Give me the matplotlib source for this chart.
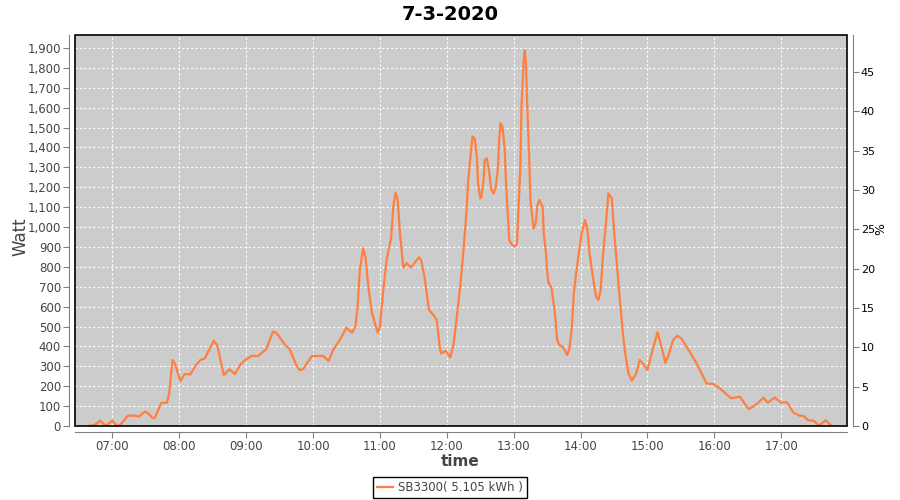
"""Daily output of the SB3300 inverter for 7-3-2020 (watt vs time)."""

import matplotlib
matplotlib.use("Agg")

import matplotlib.dates as mdates
import matplotlib.pyplot as plt
import pandas as pd
from matplotlib.patches import Rectangle
from matplotlib.ticker import FuncFormatter, MultipleLocator

DAY = "2020-03-07"
TITLE = "7-3-2020"
LEGEND_LABEL = "SB3300( 5.105 kWh )"

times = [
    "06:38", "06:44", "06:49", "06:54", "07:00", "07:04", "07:07", "07:14",
    "07:19", "07:24", "07:29", "07:32", "07:36", "07:38", "07:44", "07:49",
    "07:51", "07:54", "07:56", "08:01", "08:05", "08:10", "08:15", "08:19",
    "08:23", "08:31", "08:34", "08:40", "08:45", "08:50", "08:55", "09:00",
    "09:05", "09:11", "09:15", "09:18", "09:24", "09:27", "09:35", "09:39",
    "09:45", "09:48", "09:51", "09:59", "10:09", "10:14", "10:18", "10:24",
    "10:30", "10:35", "10:38", "10:40", "10:42", "10:45", "10:47", "10:50",
    "10:53", "10:58", "11:00", "11:03", "11:06", "11:10", "11:12", "11:14",
    "11:16", "11:18", "11:21", "11:24", "11:28", "11:35", "11:37", "11:40",
    "11:44", "11:48", "11:51", "11:54", "11:55", "11:59", "12:03", "12:06",
    "12:09", "12:12", "12:15", "12:18", "12:19", "12:21", "12:23", "12:25",
    "12:27", "12:28", "12:30", "12:31", "12:33", "12:34", "12:36", "12:38",
    "12:40", "12:42", "12:44", "12:46", "12:47", "12:48", "12:50", "12:52",
    "12:53", "12:55", "12:56", "12:58", "13:01", "13:03", "13:04", "13:06",
    "13:07", "13:09", "13:10", "13:11", "13:12", "13:14", "13:15", "13:17",
    "13:18", "13:20", "13:21", "13:23", "13:26", "13:27", "13:29", "13:30",
    "13:31", "13:34", "13:37", "13:39", "13:41", "13:44", "13:48", "13:50",
    "13:52", "13:54", "13:56", "13:58", "14:01", "14:04", "14:06", "14:08",
    "14:11", "14:14", "14:16", "14:18", "14:20", "14:23", "14:25", "14:28",
    "14:30", "14:33", "14:35", "14:38", "14:40", "14:43", "14:46", "14:50",
    "14:53", "14:57", "15:00", "15:03", "15:09", "15:13", "15:16", "15:19",
    "15:23", "15:27", "15:31", "15:35", "15:38", "15:44", "15:53", "15:59",
    "16:05", "16:15", "16:23", "16:27", "16:31", "16:38", "16:44", "16:48",
    "16:54", "17:00", "17:05", "17:11", "17:17", "17:20", "17:24", "17:29",
    "17:34", "17:40", "17:45",
]

watt = [
    0, 5, 27, 0, 27, 0, 5, 52,
    52, 48, 72, 65, 40, 40, 117, 117,
    166, 332, 316, 226, 261, 260, 306, 332,
    340, 429, 407, 256, 285, 261, 310, 335,
    352, 352, 373, 385, 474, 469, 407, 387,
    306, 281, 285, 352, 352, 327, 382, 432,
    494, 469, 499, 600, 784, 893, 851, 683,
    566, 469, 499, 683, 834, 943, 1102, 1172,
    1136, 968, 797, 818, 797, 848, 834, 750,
    583, 558, 533, 382, 365, 378, 345, 407,
    549, 700, 884, 1102, 1220, 1337, 1454, 1446,
    1353, 1220, 1144, 1152, 1236, 1337, 1345, 1278,
    1186, 1169, 1203, 1303, 1437, 1521, 1504, 1387,
    1236, 1035, 935, 915, 901, 918, 1052, 1303,
    1605, 1839, 1889, 1823, 1638, 1337, 1136, 1035,
    993, 1027, 1102, 1136, 1102, 968, 868, 784,
    725, 692, 566, 432, 407, 398, 357, 390,
    482, 667, 767, 851, 968, 1035, 993, 868,
    750, 650, 633, 683, 851, 1035, 1169, 1144,
    985, 784, 650, 466, 365, 265, 228, 265,
    332, 306, 281, 348, 471, 390, 318, 357,
    432, 454, 436, 398, 373, 315, 214, 211,
    189, 139, 147, 114, 85, 110, 142, 117,
    143, 117, 120, 67, 51, 51, 29, 27,
    2, 29, 0,
]

# axis ranges as shown on the chart
X_START, X_END = "06:26:30", "17:59:00"
YMAX_W = 1965
W_PER_PCT = 39.55

LINE_COLOR = "#ff7f40"
PLOT_BG = "#cccccc"
AXIS_GRAY = "#808080"
TEXT_GRAY = "#444444"


def to_datetime(hhmm):
    return pd.to_datetime([f"{DAY} {t}" for t in hhmm])


if __name__ == "__main__":
    plt.rcParams["font.family"] = ["DejaVu Sans"]

    fig = plt.figure(figsize=(9, 5), dpi=100)
    ax = fig.add_axes([75 / 900, 1 - 426 / 500, 772 / 900, 391 / 500])
    ax.set_facecolor(PLOT_BG)

    x = to_datetime(times)
    ax.plot(x, watt, color=LINE_COLOR, linewidth=1.6, label=LEGEND_LABEL, zorder=3)

    ax.set_xlim(pd.Timestamp(f"{DAY} {X_START}"), pd.Timestamp(f"{DAY} {X_END}"))
    ax.set_ylim(0, YMAX_W)
    ax.yaxis.set_major_locator(MultipleLocator(100))
    ax.yaxis.set_major_formatter(FuncFormatter(lambda v, _: f"{v:,.0f}"))
    ax.xaxis.set_major_locator(mdates.HourLocator())
    ax.xaxis.set_major_formatter(mdates.DateFormatter("%H:%M"))

    ax.grid(True, color="white", linestyle=(0, (2, 2)), linewidth=0.8)
    ax.set_axisbelow(True)

    for side in ("top", "right"):
        ax.spines[side].set_visible(False)
    for side in ("left", "bottom"):
        ax.spines[side].set_position(("outward", 4))
        ax.spines[side].set_color(AXIS_GRAY)
    ax.tick_params(axis="both", direction="out", length=4, width=0.8,
                   color=AXIS_GRAY, labelsize=8.5, labelcolor=TEXT_GRAY, pad=2)

    ax.set_xlabel("time", fontsize=11, fontweight="bold", color=TEXT_GRAY)
    ax.set_ylabel("Watt", fontsize=12, color=TEXT_GRAY)
    ax.xaxis.set_label_coords(0.4987, -0.072)
    ax.yaxis.set_label_coords(-0.059, 0.483)

    # right-hand percentage axis
    ax2 = ax.twinx()
    ax2.set_ylim(0, YMAX_W / W_PER_PCT)
    ax2.yaxis.set_major_locator(MultipleLocator(5))
    for side in ("top", "left", "bottom"):
        ax2.spines[side].set_visible(False)
    ax2.spines["right"].set_position(("outward", 4))
    ax2.spines["right"].set_color(AXIS_GRAY)
    ax2.tick_params(axis="y", direction="out", length=4, width=0.8,
                    color=AXIS_GRAY, labelsize=8, labelcolor="black", pad=2)
    ax2.set_ylabel("%", fontsize=9)
    ax2.yaxis.set_label_coords(1.035, 0.504)

    ax2.add_patch(Rectangle((0, 0), 1, 1, transform=ax2.transAxes, fill=False,
                            edgecolor="black", linewidth=1.2, clip_on=False))

    fig.text(0.5, 1 - 15 / 500, TITLE, ha="center", va="center",
             fontsize=14, fontweight="bold")

    leg = fig.legend(loc="center", bbox_to_anchor=(0.5, 1 - 487.5 / 500),
                     fontsize=8.5, fancybox=False, edgecolor="black",
                     framealpha=1, handlelength=1.4, handletextpad=0.4,
                     borderpad=0.3, borderaxespad=0)
    leg.get_frame().set_linewidth(1.0)
    for text in leg.get_texts():
        text.set_color(TEXT_GRAY)

    fig.savefig("out.png", dpi=100)
